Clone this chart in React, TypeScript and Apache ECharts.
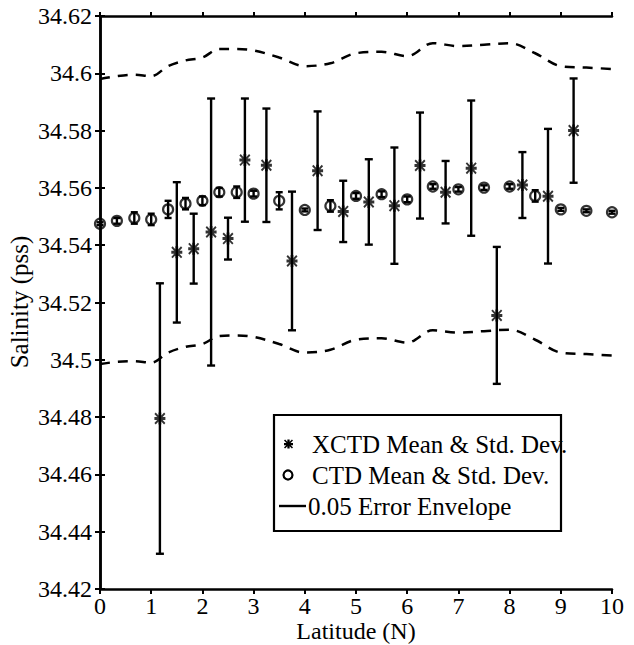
import React, { useEffect, useRef } from "react";
import * as echarts from "echarts";

// CTD mean & std dev by latitude
const ctdLat = [0, 0.33, 0.67, 1, 1.33, 1.67, 2, 2.33, 2.67, 3, 3.5, 4, 4.5, 5, 5.5, 6, 6.5, 7, 7.5, 8, 8.5, 9, 9.5, 10];
const ctdMean = [34.5475, 34.5485, 34.5495, 34.549, 34.5525, 34.5545, 34.5555, 34.5585, 34.5585, 34.558, 34.5555, 34.5523, 34.5537, 34.5572, 34.5578, 34.556, 34.5605, 34.5595, 34.5601, 34.5605, 34.5572, 34.5525, 34.552, 34.5515];
const ctdStd = [0.0005, 0.001, 0.002, 0.002, 0.003, 0.002, 0.0015, 0.0015, 0.002, 0.001, 0.003, 0.0005, 0.002, 0.001, 0.001, 0.001, 0.0008, 0.0008, 0.0008, 0.0008, 0.002, 0.0005, 0.0005, 0.0005];

// XCTD mean & std dev by latitude
const xctdLat = [1.17, 1.5, 1.83, 2.17, 2.5, 2.83, 3.25, 3.75, 4.25, 4.75, 5.25, 5.75, 6.25, 6.75, 7.25, 7.75, 8.25, 8.75, 9.25];
const xctdMean = [34.4795, 34.5375, 34.5388, 34.5446, 34.5423, 34.5697, 34.5679, 34.5345, 34.566, 34.5518, 34.5551, 34.5538, 34.5678, 34.5585, 34.5669, 34.5155, 34.561, 34.5571, 34.58];
const xctdStd = [0.0472, 0.0245, 0.0122, 0.0466, 0.0073, 0.0215, 0.0198, 0.0242, 0.0207, 0.0107, 0.0149, 0.0203, 0.0185, 0.0109, 0.0236, 0.0239, 0.0115, 0.0235, 0.0182];

// 0.05 error envelope (read at CTD latitudes)
const envUpper = [34.598, 34.599, 34.5995, 34.599, 34.6025, 34.6045, 34.6055, 34.6085, 34.6085, 34.608, 34.6055, 34.6025, 34.6035, 34.607, 34.6075, 34.606, 34.6105, 34.6095, 34.61, 34.6105, 34.607, 34.6025, 34.602, 34.6015];
const envLower = [34.4985, 34.4993, 34.4995, 34.499, 34.5025, 34.5045, 34.5055, 34.5083, 34.5085, 34.508, 34.5055, 34.5025, 34.5035, 34.507, 34.5075, 34.506, 34.5103, 34.5095, 34.51, 34.5105, 34.507, 34.5025, 34.502, 34.5015];

const xTicks = { min: 0, max: 10, interval: 1 };
const yTicks = { min: 34.42, max: 34.62, interval: 0.02 };

const xTitle = "Latitude (N)";
const yTitle = "Salinity (pss)";
const legendLabels = ["XCTD Mean & Std. Dev.", "CTD Mean & Std. Dev.", "0.05 Error Envelope"];

const FONT = "Times New Roman";
const ASTERISK_D = "M3.75,0H6.25V10H3.75Z M0,3.75H10V6.25H0Z M1.2,0L10,8.8L8.8,10L0,1.2Z M8.8,0L10,1.2L1.2,10L0,8.8Z";

let registered = false;
function ensureShape() {
  if (registered) return;
  echarts.graphic.registerShape("asterisk", echarts.graphic.extendPath(ASTERISK_D, {}));
  registered = true;
}

function errorBarRender(capHalf: number) {
  return (params: any, api: any) => {
    const x = api.value(0);
    const lo = api.coord([x, api.value(1)]);
    const hi = api.coord([x, api.value(2)]);
    const st = { stroke: "#000", lineWidth: 2.4 };
    return {
      type: "group",
      children: [
        { type: "line", shape: { x1: lo[0], y1: lo[1], x2: hi[0], y2: hi[1] }, style: st },
        { type: "line", shape: { x1: lo[0] - capHalf, y1: lo[1], x2: lo[0] + capHalf, y2: lo[1] }, style: st },
        { type: "line", shape: { x1: hi[0] - capHalf, y1: hi[1], x2: hi[0] + capHalf, y2: hi[1] }, style: st },
      ],
    };
  };
}

export default function App() {
  const ref = useRef<HTMLDivElement>(null);
  useEffect(() => {
    if (!ref.current) return;
    ensureShape();
    const chart = echarts.init(ref.current, null, { renderer: "svg" });
    const axisLine = { show: true, lineStyle: { color: "#000", width: 2.5 } };
    const axisTick = { show: true, length: 5, lineStyle: { color: "#000", width: 2 } };
    const fmt = (v: number) => String(parseFloat(v.toFixed(2)));

    const lx = 274, ly = 415, lw = 287, lh = 116;
    const rowY = [ly + 29, ly + 60, ly + 91];

    const option: any = {
      animation: false,
      backgroundColor: "#fff",
      textStyle: { fontFamily: FONT, color: "#000" },
      grid: { left: 100, right: 22, top: 16, bottom: 56, containLabel: false, outerBoundsMode: "none" },
      xAxis: [
        {
          type: "value", ...xTicks, position: "bottom",
          axisLine, axisTick,
          axisLabel: { color: "#000", fontSize: 24, fontFamily: FONT, margin: 5 },
          splitLine: { show: false },
        },
        {
          type: "value", ...xTicks, position: "top",
          axisLine, axisTick: { ...axisTick, length: 4 },
          axisLabel: { show: false }, splitLine: { show: false },
        },
      ],
      yAxis: [
        {
          type: "value", ...yTicks, position: "left",
          axisLine, axisTick,
          axisLabel: { color: "#000", fontSize: 24, fontFamily: FONT, margin: 8, formatter: fmt },
          splitLine: { show: false },
        },
        {
          type: "value", ...yTicks, position: "right",
          axisLine, axisTick,
          axisLabel: { show: false }, splitLine: { show: false },
        },
      ],
      series: [
        {
          name: "0.05 Error Envelope upper", type: "line", smooth: 0.35, symbol: "none",
          data: ctdLat.map((x, i) => [x, envUpper[i]]),
          lineStyle: { color: "#000", width: 2.5, type: [10, 8] },
        },
        {
          name: "0.05 Error Envelope lower", type: "line", smooth: 0.35, symbol: "none",
          data: ctdLat.map((x, i) => [x, envLower[i]]),
          lineStyle: { color: "#000", width: 2.5, type: [10, 8] },
        },
        {
          name: "CTD Mean & Std. Dev.", type: "scatter", symbol: "circle", symbolSize: 10,
          data: ctdLat.map((x, i) => [x, ctdMean[i]]),
          itemStyle: { color: "rgba(255,255,255,0)", borderColor: "#000", borderWidth: 2.2 },
          z: 3,
        },
        {
          name: "CTD err", type: "custom", renderItem: errorBarRender(3.5),
          data: ctdLat.map((x, i) => [x, ctdMean[i] - ctdStd[i], ctdMean[i] + ctdStd[i]]),
          z: 4,
        },
        {
          name: "XCTD err", type: "custom", renderItem: errorBarRender(4),
          data: xctdLat.map((x, i) => [x, xctdMean[i] - xctdStd[i], xctdMean[i] + xctdStd[i]]),
          z: 4,
        },
        {
          name: "XCTD Mean & Std. Dev.", type: "scatter", symbol: "path://" + ASTERISK_D, symbolSize: [11, 12],
          data: xctdLat.map((x, i) => [x, xctdMean[i]]),
          itemStyle: { color: "#000" },
          z: 5,
        },
      ],
      graphic: [
        {
          type: "text", x: 356, y: 631, z: 100,
          style: { text: xTitle, fontSize: 24, fontFamily: FONT, fill: "#000", align: "center", verticalAlign: "middle" },
        },
        {
          type: "text", x: 19, y: 302, rotation: Math.PI / 2, z: 100,
          style: { text: yTitle, fontSize: 25, fontFamily: FONT, fill: "#000", align: "center", verticalAlign: "middle" },
        },
        {
          type: "group", z: 100,
          children: [
            { type: "rect", shape: { x: lx, y: ly, width: lw, height: lh }, style: { fill: "#fff", stroke: "#000", lineWidth: 2.2 } },
            { type: "asterisk", x: 284, y: rowY[0] - 4.5, scaleX: 0.9, scaleY: 0.9, style: { fill: "#000" } },
            { type: "circle", shape: { cx: 288, cy: rowY[1], r: 4.5 }, style: { fill: "none", stroke: "#000", lineWidth: 2.2 } },
            { type: "line", shape: { x1: 279, y1: rowY[2], x2: 306, y2: rowY[2] }, style: { stroke: "#000", lineWidth: 2.4 } },
            { type: "text", x: 312, y: rowY[0], style: { text: legendLabels[0], fontSize: 25, fontFamily: FONT, fill: "#000", verticalAlign: "middle" } },
            { type: "text", x: 312, y: rowY[1], style: { text: legendLabels[1], fontSize: 25, fontFamily: FONT, fill: "#000", verticalAlign: "middle" } },
            { type: "text", x: 308, y: rowY[2], style: { text: legendLabels[2], fontSize: 25, fontFamily: FONT, fill: "#000", verticalAlign: "middle" } },
          ],
        },
      ],
    };
    chart.setOption(option);
    return () => chart.dispose();
  }, []);
  return <div ref={ref} style={{ position: "fixed", left: 0, top: 0, width: 634, height: 645, background: "#fff" }} />;
}
